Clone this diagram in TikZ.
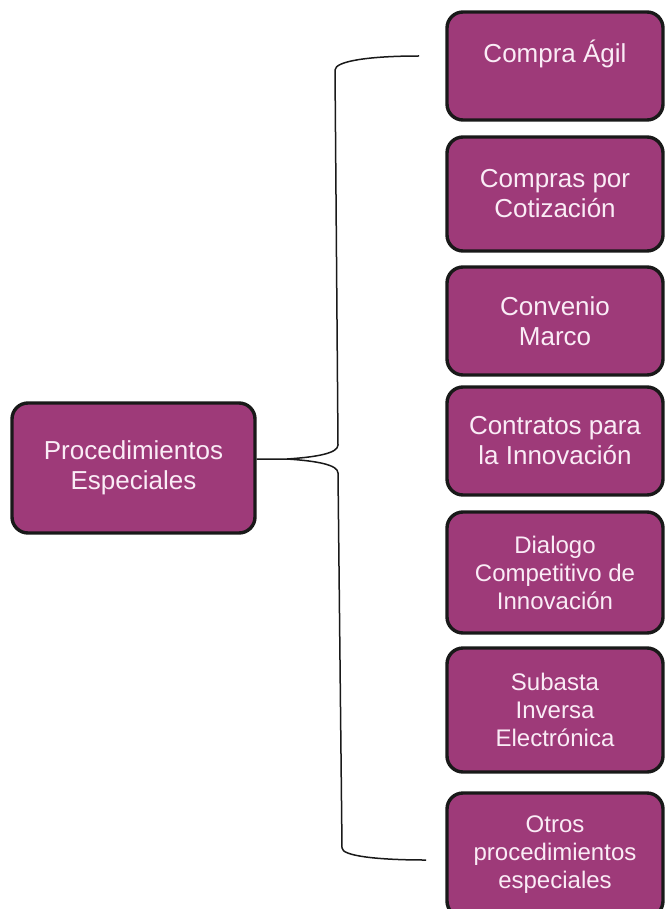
\documentclass[tikz,border=0pt]{standalone}
\usepackage{fontspec}
\setmainfont{Liberation Sans}
\usetikzlibrary{calc}
\definecolor{boxfill}{RGB}{158,58,121}
\definecolor{boxtext}{RGB}{250,236,246}
\begin{document}
\begin{tikzpicture}[x=1pt,y=-1pt,
  box/.style={draw=black!90, line width=3.4pt, rounded corners=16pt, fill=boxfill,
    text=boxtext, align=center, inner sep=0pt},
  bigtxt/.style={font=\fontsize{26}{30}\selectfont},
  smalltxt/.style={font=\fontsize{24}{28}\selectfont},
  bracket/.style={draw=black!90, line width=1.5pt}]
\clip (0,0) rectangle (665,909);
\fill[white] (0,0) rectangle (665,909);

\node[box, bigtxt, minimum width=243, minimum height=130] (L) at (133.5,468) {Procedimientos\\Especiales};

\node[box, bigtxt, minimum width=216, minimum height=108] (b1) at (555,66) {Compra Ágil\\\mbox{}};
\node[box, bigtxt, minimum width=216, minimum height=114] (b2) at (555,194) {Compras por\\Cotización};
\node[box, bigtxt, minimum width=216, minimum height=108] (b3) at (555,321) {Convenio\\Marco};
\node[box, bigtxt, minimum width=216, minimum height=108] (b4) at (555,441) {Contratos para\\la Innovación};
\node[box, smalltxt, minimum width=216, minimum height=121] (b5) at (555,572.5) {Dialogo\\Competitivo de\\Innovación};
\node[box, smalltxt, minimum width=216, minimum height=124] (b6) at (555,710) {Subasta\\Inversa\\Electrónica};
\node[box, smalltxt, minimum width=216, minimum height=124] (b7) at (555,855) {Otros\\procedimientos\\especiales};

\coordinate (s) at ([yshift=9pt]L.east);
\coordinate (tip) at (287,459);
\coordinate (topend) at (419,56);
\coordinate (botend) at (426,860);

\draw[bracket] (s) -- (tip)
  .. controls (318,457) and (338,453) .. (338,445)
  -- (335,70)
  .. controls (335,61) and (370,56) .. (topend);
\draw[bracket] (tip)
  .. controls (318,461) and (338,465) .. (338,473)
  -- (342,848)
  .. controls (342,856) and (378,860) .. (botend);
\end{tikzpicture}
\end{document}
